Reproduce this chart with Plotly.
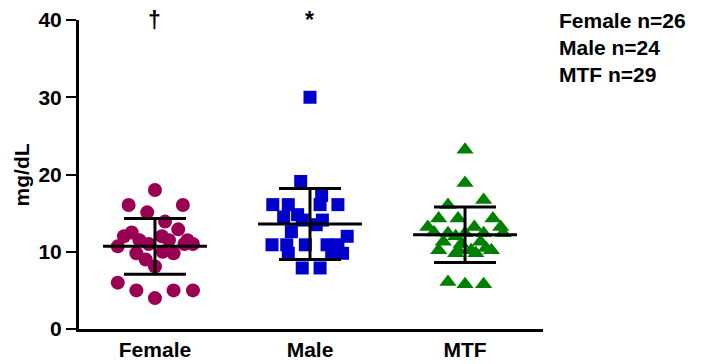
import plotly.graph_objects as go

# Groups and their individual measurements (mg/dL)
groups = ["Female", "Male", "MTF"]
counts = [26, 24, 29]

female_vals = [18.0, 16.05, 16.05, 15.1, 13.9, 12.9, 10.7, 11.0, 9.8, 9.8, 8.1,
               6.0, 5.0, 4.0, 5.0, 5.0,
               12.5, 12.0, 11.5, 11.5, 11.0, 11.0, 12.0, 11.5, 10.0, 9.0]
female_jitter = [0.0, -0.17, 0.18, -0.05, 0.065, 0.15, -0.24, 0.245, -0.12, 0.12, 0.0,
                 -0.24, -0.12, 0.0, 0.12, 0.245,
                 -0.15, -0.2, -0.1, 0.09, -0.04, 0.19, 0.045, 0.21, 0.05, -0.06]

male_vals = [30.0, 19.1, 17.3, 16.1, 16.1, 16.1, 16.1, 14.8, 14.1, 14.1, 12.6, 12.0,
             10.9, 10.9, 10.9, 10.9, 10.9, 9.8, 9.8, 9.8, 7.9, 7.9, 13.5, 14.5]
male_jitter = [0.0, -0.06, 0.075, -0.24, -0.14, 0.065, 0.18, -0.08, -0.05, 0.08, -0.12, 0.24,
               -0.245, -0.15, -0.03, 0.11, 0.18, -0.14, 0.14, 0.21, -0.05, 0.065, 0.04, -0.17]

mtf_vals = [23.2, 18.9, 16.05, 16.7, 14.3, 14.3, 14.3, 13.2, 13.2, 13.2,
            12.4, 12.4, 12.4, 12.4, 11.3, 11.3, 10.2, 10.2, 10.2, 10.2, 9.8, 9.8,
            6.1, 5.8, 5.8, 12.0, 12.5, 11.0, 10.5]
mtf_jitter = [0.0, 0.0, -0.11, 0.12, -0.17, -0.045, 0.18, -0.24, 0.06, 0.23,
              -0.11, 0.0, 0.12, 0.245, -0.14, 0.1, -0.17, -0.045, 0.04, 0.17, -0.06, 0.07,
              -0.11, 0.0, 0.12, -0.06, -0.2, -0.025, 0.135]

# Mean and standard deviation shown for each group
means = [10.7, 13.6, 12.2]
sds = [3.6, 4.6, 3.6]

# Significance marks above groups
sig_marks = ["\u2020", "*", ""]

colors = ["#990052", "#0000CC", "#008000"]
symbols = ["circle", "square", "triangle-up"]
sizes = [14, 13, 15]

font_family = "Liberation Sans, Arial, sans-serif"

fig = go.Figure()

all_vals = [female_vals, male_vals, mtf_vals]
all_jit = [female_jitter, male_jitter, mtf_jitter]
for i, (vals, jit) in enumerate(zip(all_vals, all_jit)):
    fig.add_trace(go.Scatter(
        x=[i + j for j in jit], y=vals, mode="markers",
        marker=dict(symbol=symbols[i], size=sizes[i], color=colors[i], line=dict(width=0)),
        showlegend=False, hoverinfo="y", cliponaxis=False,
    ))

# Mean line with SD whiskers and caps
half_mean = 0.335
half_cap = 0.2
lx, ly = [], []
for i, (m, s) in enumerate(zip(means, sds)):
    lx += [i - half_mean, i + half_mean, None]
    ly += [m, m, None]
    lx += [i, i, None]
    ly += [m - s, m + s, None]
    lx += [i - half_cap, i + half_cap, None]
    ly += [m + s, m + s, None]
    lx += [i - half_cap, i + half_cap, None]
    ly += [m - s, m - s, None]
fig.add_trace(go.Scatter(x=lx, y=ly, mode="lines",
                         line=dict(color="black", width=3),
                         showlegend=False, hoverinfo="skip"))

for i, mark in enumerate(sig_marks):
    if mark:
        fig.add_annotation(x=i, y=40, xref="x", yref="y", text=mark, showarrow=False,
                           yanchor="middle",
                           font=dict(family=font_family, size=23, color="black", weight="bold"))

# Group sizes listed at the top right
for k, (g, n) in enumerate(zip(groups, counts)):
    fig.add_annotation(x=1.03, y=1.0 - k * 0.088, xref="paper", yref="paper",
                       text=f"{g} n={n}", showarrow=False, xanchor="left", yanchor="middle",
                       font=dict(family=font_family, size=21, color="black", weight="bold"))

# Y-axis title
fig.add_annotation(x=-0.123, y=0.5, xref="paper", yref="paper", text="mg/dL",
                   showarrow=False, textangle=-90, xanchor="center", yanchor="middle",
                   font=dict(family=font_family, size=21, color="black", weight="bold"))

fig.update_layout(
    width=710, height=364,
    margin=dict(l=79, r=167, t=20, b=35),
    plot_bgcolor="white", paper_bgcolor="white",
    font=dict(family=font_family, color="black", weight="bold"),
    xaxis=dict(
        range=[-0.49, 2.503], tickmode="array", tickvals=[0, 1, 2], ticktext=groups,
        showline=True, linecolor="black", linewidth=3, showgrid=False, zeroline=False,
        ticks="", automargin=False,
        tickfont=dict(family=font_family, size=21, color="black", weight="bold"),
    ),
    yaxis=dict(
        range=[0, 40], tickmode="array", tickvals=[0, 10, 20, 30, 40],
        showline=True, linecolor="black", linewidth=3, showgrid=False, zeroline=False,
        ticks="outside", ticklen=10, tickwidth=2, tickcolor="black", automargin=False,
        tickfont=dict(family=font_family, size=21, color="black", weight="bold"),
    ),
)

fig.write_html("out.html")
